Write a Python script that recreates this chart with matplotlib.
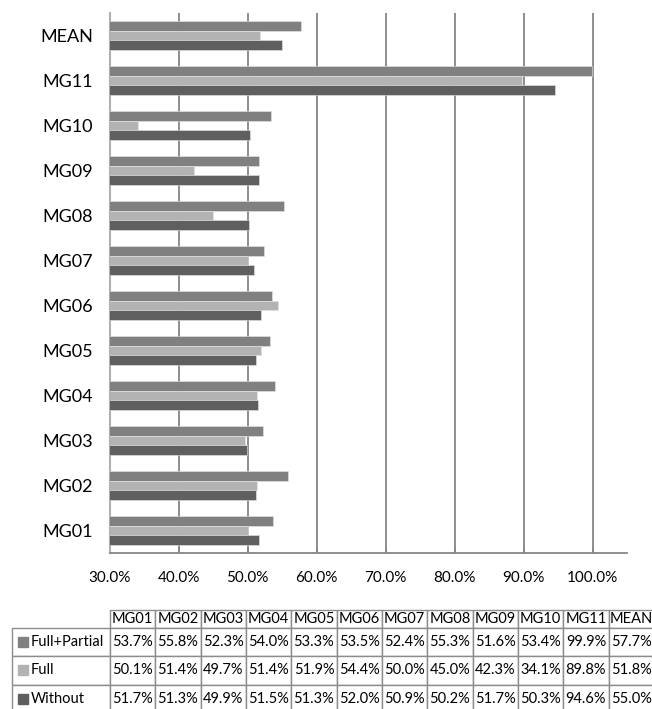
import matplotlib
matplotlib.use("Agg")
import matplotlib.pyplot as plt

plt.rcParams["font.family"] = ["Lato", "DejaVu Sans"]

# Données
categories = ["MG01", "MG02", "MG03", "MG04", "MG05", "MG06",
              "MG07", "MG08", "MG09", "MG10", "MG11", "MEAN"]
full_partial = [53.7, 55.8, 52.3, 54.0, 53.3, 53.5, 52.4, 55.3, 51.6, 53.4, 99.9, 57.7]
full = [50.1, 51.4, 49.7, 51.4, 51.9, 54.4, 50.0, 45.0, 42.3, 34.1, 89.8, 51.8]
without = [51.7, 51.3, 49.9, 51.5, 51.3, 52.0, 50.9, 50.2, 51.7, 50.3, 94.6, 55.0]
series_names = ["Full+Partial", "Full", "Without"]
series_colors = ["#808080", "#b3b3b3", "#5f5f5f"]
xticks = [30, 40, 50, 60, 70, 80, 90, 100]

W, H = 652, 709
fig = plt.figure(figsize=(W / 100, H / 100), dpi=100)

# Graphe principal
ax = fig.add_axes([109.5 / W, 1 - 553 / H, (627 - 109.5) / W, 540 / H])
h = 0.217
pos = list(range(len(categories)))
for k, (vals, col) in enumerate(zip([full_partial, full, without], series_colors)):
    ax.barh([p + (1 - k) * h for p in pos], vals, height=h, color=col,
            edgecolor="#e6e6e6", linewidth=0.4, zorder=3)

ax.set_xlim(30, 105)
ax.set_ylim(-0.5, len(categories) - 0.5)
ax.set_xticks(xticks)
ax.set_xticklabels(["{:.1f}%".format(v) for v in xticks], fontsize=11)
ax.set_yticks(pos)
ax.set_yticklabels(categories, fontsize=13)
ax.tick_params(axis="y", length=0, pad=12)
ax.tick_params(axis="x", length=4, width=1.1, color="#868686", pad=13, direction="in")
ax.grid(axis="x", color="#868686", linewidth=1.3, zorder=0)
ax.spines["top"].set_visible(False)
ax.spines["right"].set_visible(False)
ax.spines["left"].set_color("#b0b0b0")
ax.spines["left"].set_linewidth(1.5)
ax.spines["bottom"].set_color("#868686")
ax.spines["bottom"].set_linewidth(1.3)

# Tableau de données
tx0, tx1, ty0, ty1 = 12, 654, 610, 713
ax_t = fig.add_axes([tx0 / W, 1 - ty1 / H, (tx1 - tx0) / W, (ty1 - ty0) / H])
ax_t.set_xlim(0, 1)
ax_t.set_ylim(0, 1)
ax_t.axis("off")

rows = [full_partial, full, without]
cell_text = [[""] + categories]
for name, vals in zip(series_names, rows):
    cell_text.append([name] + ["{:.1f}%".format(v) for v in vals])

label_w = 98.0
col_w = (tx1 - tx0 - label_w) / len(categories)
tab = ax_t.table(cellText=cell_text, cellLoc="center",
                 colWidths=[label_w] + [col_w] * len(categories),
                 bbox=[0, 0, 1, 1])
tab.auto_set_font_size(False)
for (r, c), cell in tab.get_celld().items():
    cell.set_edgecolor("#8c8c8c")
    cell.set_linewidth(1.0)
    cell.get_text().set_fontsize(10.5)
    cell.PAD = 0.02
    cell.set_height(18 if r == 0 else 28.5)
    if c == 0:
        cell.get_text().set_ha("left")
        cell._loc = "left"
        cell.PAD = 19 / label_w
    if r == 0 and c == 0:
        cell.visible_edges = ""

# Carrés de légende
fig.canvas.draw()
for i, col in enumerate(series_colors):
    cell = tab[i + 1, 0]
    b = cell.get_bbox()
    ax_t.plot(b.x0 + 10.5 / (tx1 - tx0), b.y0 + b.height / 2, marker="s",
              markersize=6.5, color=col, transform=ax_t.transAxes, clip_on=False)

fig.savefig("out.png", dpi=100)
